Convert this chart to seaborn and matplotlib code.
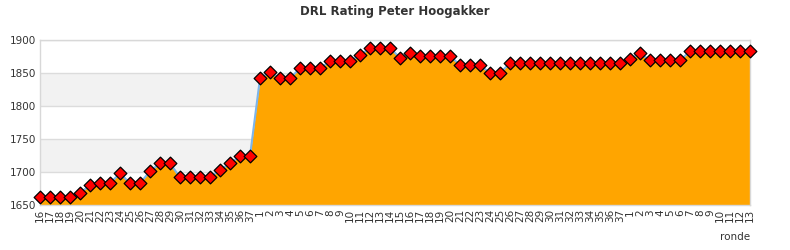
import matplotlib
matplotlib.use("Agg")
import matplotlib.pyplot as plt
import seaborn as sns
import numpy as np
import pandas as pd

rounds = ([str(r) for r in range(16, 38)] + [str(r) for r in range(1, 38)]
          + [str(r) for r in range(1, 14)])
season1 = [1662, 1662, 1662, 1662, 1668, 1680, 1683, 1683, 1698, 1683, 1683,
           1701, 1713, 1713, 1692, 1692, 1692, 1692, 1703, 1713, 1724, 1724]
season2 = [1842, 1851, 1842, 1842, 1857, 1857, 1857, 1868, 1868, 1868, 1877,
           1888, 1888, 1888, 1873, 1880, 1876, 1876, 1876, 1876, 1862, 1862,
           1862, 1850, 1850, 1865, 1865, 1865, 1865, 1865, 1865, 1865, 1865,
           1865, 1865, 1865, 1865]
season3 = [1871, 1880, 1869, 1869, 1869, 1869, 1883, 1883, 1883, 1883, 1883,
           1883, 1883]
ratings = season1 + season2 + season3
yticks = [1650, 1700, 1750, 1800, 1850, 1900]

df = pd.DataFrame({"idx": np.arange(len(ratings)), "rating": ratings})

sns.set_theme(style="white")
plt.rcParams["font.family"] = ["DejaVu Sans"]

fig = plt.figure(figsize=(7.9, 2.5), dpi=100)
ax = fig.add_axes([40 / 790, 45 / 250, 710 / 790, 165 / 250])

# alternating bands
for lo in (1700, 1800):
    ax.axhspan(lo, lo + 50, color="#f2f2f2", zorder=0, lw=0)
for y in yticks:
    ax.axhline(y, color="#dcdcdc", lw=1, zorder=0.5)

ax.fill_between(df["idx"], 1650, df["rating"], color="#ffa500", zorder=1, lw=0)
sns.lineplot(data=df, x="idx", y="rating", ax=ax, color="#7cb5ec", lw=1.5,
             zorder=2)
sns.scatterplot(data=df, x="idx", y="rating", ax=ax, marker="D", s=42,
                color="#ff0000", edgecolor="black", linewidth=0.9, zorder=3,
                clip_on=False)

ax.set_xlim(0, len(ratings) - 1)
ax.set_ylim(1650, 1900)
ax.set_yticks(yticks)
ax.set_yticklabels([str(v) for v in yticks], fontsize=7.5, color="#333333")
ax.set_xticks(np.arange(len(ratings)))
ax.set_xticklabels(rounds, rotation=90, fontsize=7.5, color="#333333")
ax.tick_params(axis="both", length=0, pad=3)
ax.set_xlabel("")
ax.set_ylabel("")
for s in ax.spines.values():
    s.set_color("#d8d8d8")
    s.set_linewidth(1)

fig.text(750 / 790, 13 / 250, "ronde", ha="right", va="center", fontsize=7.5,
         color="#333333")
fig.suptitle("DRL Rating Peter Hoogakker", x=0.5, y=1 - 12 / 250, va="center",
             fontsize=8.5, fontweight="bold", color="#333333")

fig.savefig("out.png", dpi=100)
